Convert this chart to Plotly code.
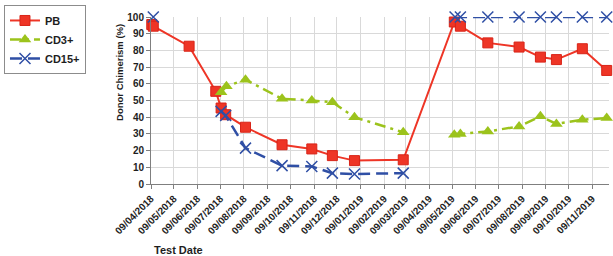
import plotly.graph_objects as go

# ---- data ----
tick_dates = ["2018-04-09", "2018-05-09", "2018-06-09", "2018-07-09", "2018-08-09",
              "2018-09-09", "2018-10-09", "2018-11-09", "2018-12-09", "2019-01-09",
              "2019-02-09", "2019-03-09", "2019-04-09", "2019-05-09", "2019-06-09",
              "2019-07-09", "2019-08-09", "2019-09-09", "2019-10-09", "2019-11-09"]
tick_labels = ["09/04/2018", "09/05/2018", "09/06/2018", "09/07/2018", "09/08/2018",
               "09/09/2018", "09/10/2018", "09/11/2018", "09/12/2018", "09/01/2019",
               "09/02/2019", "09/03/2019", "09/04/2019", "09/05/2019", "09/06/2019",
               "09/07/2019", "09/08/2019", "09/09/2019", "09/10/2019", "09/11/2019"]

pb_dates = ["2018-04-10", "2018-04-12", "2018-05-29", "2018-07-03", "2018-07-10",
            "2018-07-16", "2018-08-11", "2018-09-28", "2018-11-06", "2018-12-03",
            "2019-01-01", "2019-03-06", "2019-05-12", "2019-05-20", "2019-06-25",
            "2019-08-05", "2019-09-02", "2019-09-23", "2019-10-27", "2019-11-28"]
pb_values = [95.5, 94.5, 82.5, 55.5, 45.5, 41.5, 34, 23.5, 21, 17,
             14, 14.5, 97, 94.5, 84.5, 82, 76, 74.5, 81, 68]

cd3_dates = ["2018-07-10", "2018-07-17", "2018-08-11", "2018-09-28", "2018-11-06",
             "2018-12-03", "2019-01-01", "2019-03-06", "2019-04-09", "2019-05-12",
             "2019-05-20", "2019-06-25", "2019-08-05", "2019-09-02", "2019-09-23",
             "2019-10-27", "2019-11-28"]
cd3_values = [55, 58.5, 62.5, 51, 50, 49, 40, 31, None, 29.5,
              30, 31.5, 34.5, 40.5, 36, 38.5, 39.5]

cd15_dates = ["2018-04-12", "2018-05-29", "2018-07-10", "2018-07-16", "2018-08-11",
              "2018-09-28", "2018-11-06", "2018-12-03", "2019-01-01", "2019-03-06",
              "2019-04-09", "2019-05-13", "2019-05-20", "2019-06-25", "2019-08-05",
              "2019-09-02", "2019-09-23", "2019-10-27", "2019-11-28"]
cd15_values = [100, None, 43.5, 41, 21.5, 11, 10.5, 6.5, 6, 6.5,
               None, 100, 100, 100, 100, 100, 100, 100, 100]

y_ticks = [0, 10, 20, 30, 40, 50, 60, 70, 80, 90, 100]

RED = "#ee3526"
GREEN = "#9cc31c"
BLUE = "#2f4fa5"
TXT = "#1e1e1e"
FONT = "Liberation Sans, Arial, sans-serif"

fig = go.Figure()
fig.add_trace(go.Scatter(
    x=pb_dates, y=pb_values, name="PB", mode="lines+markers",
    line=dict(color=RED, width=2),
    marker=dict(symbol="square", size=10, color=RED, line=dict(color="#d82418", width=1)),
    cliponaxis=False))
fig.add_trace(go.Scatter(
    x=cd3_dates, y=cd3_values, name="CD3+", mode="lines+markers",
    line=dict(color=GREEN, width=2.5, dash="11px,5px,3px,5px"),
    marker=dict(symbol="triangle-up", size=11, color=GREEN),
    connectgaps=False, cliponaxis=False))
fig.add_trace(go.Scatter(
    x=cd15_dates, y=cd15_values, name="CD15+", mode="lines+markers",
    line=dict(color=BLUE, width=2.5, dash="12px,6px"),
    marker=dict(symbol="x-thin-open", size=11, color=BLUE, line=dict(color=BLUE, width=1.5)),
    connectgaps=False, cliponaxis=False))

fig.update_layout(
    width=613, height=256,
    margin=dict(l=151, r=4, t=17, b=72),
    paper_bgcolor="white", plot_bgcolor="white",
    font=dict(family=FONT, color=TXT, size=10),
    showlegend=True,
    legend=dict(x=-0.321, y=1.072, xanchor="left", yanchor="top",
                bgcolor="white", bordercolor="#8c8c8c", borderwidth=1,
                font=dict(family=FONT, size=11, color=TXT, weight="bold"),
                tracegroupgap=0),
    xaxis=dict(
        type="date", range=["2018-04-09", "2019-12-01"],
        tickvals=tick_dates, ticktext=tick_labels, tickangle=-45,
        tickfont=dict(family=FONT, size=10, color=TXT, weight="bold"),
        showgrid=True, gridcolor="#d9d9d9", gridwidth=1,
        showline=True, linecolor="#7f7f7f", linewidth=1,
        ticks="outside", ticklen=4, tickcolor="#7f7f7f",
        zeroline=False),
    yaxis=dict(
        range=[0, 100], tickvals=y_ticks,
        tickfont=dict(family=FONT, size=10, color=TXT, weight="bold"),
        showgrid=True, gridcolor="#d9d9d9", gridwidth=1,
        showline=True, linecolor="#7f7f7f", linewidth=1,
        ticks="outside", ticklen=4, tickcolor="#7f7f7f",
        zeroline=False),
    annotations=[
        dict(text="Donor Chimerism (%)", textangle=-90, xref="paper", yref="paper",
             x=-0.0677, y=0.671, xanchor="center", yanchor="middle", showarrow=False,
             font=dict(family=FONT, size=9.5, color=TXT, weight="bold")),
        dict(text="Test Date", xref="paper", yref="paper",
             x=0.002, y=-0.395, xanchor="left", yanchor="middle", showarrow=False,
             font=dict(family=FONT, size=11, color=TXT, weight="bold")),
    ],
)

fig.write_html("out.html",
               config={"displayModeBar": False},
               post_script="document.body.style.margin='0';document.body.style.padding='0';")
